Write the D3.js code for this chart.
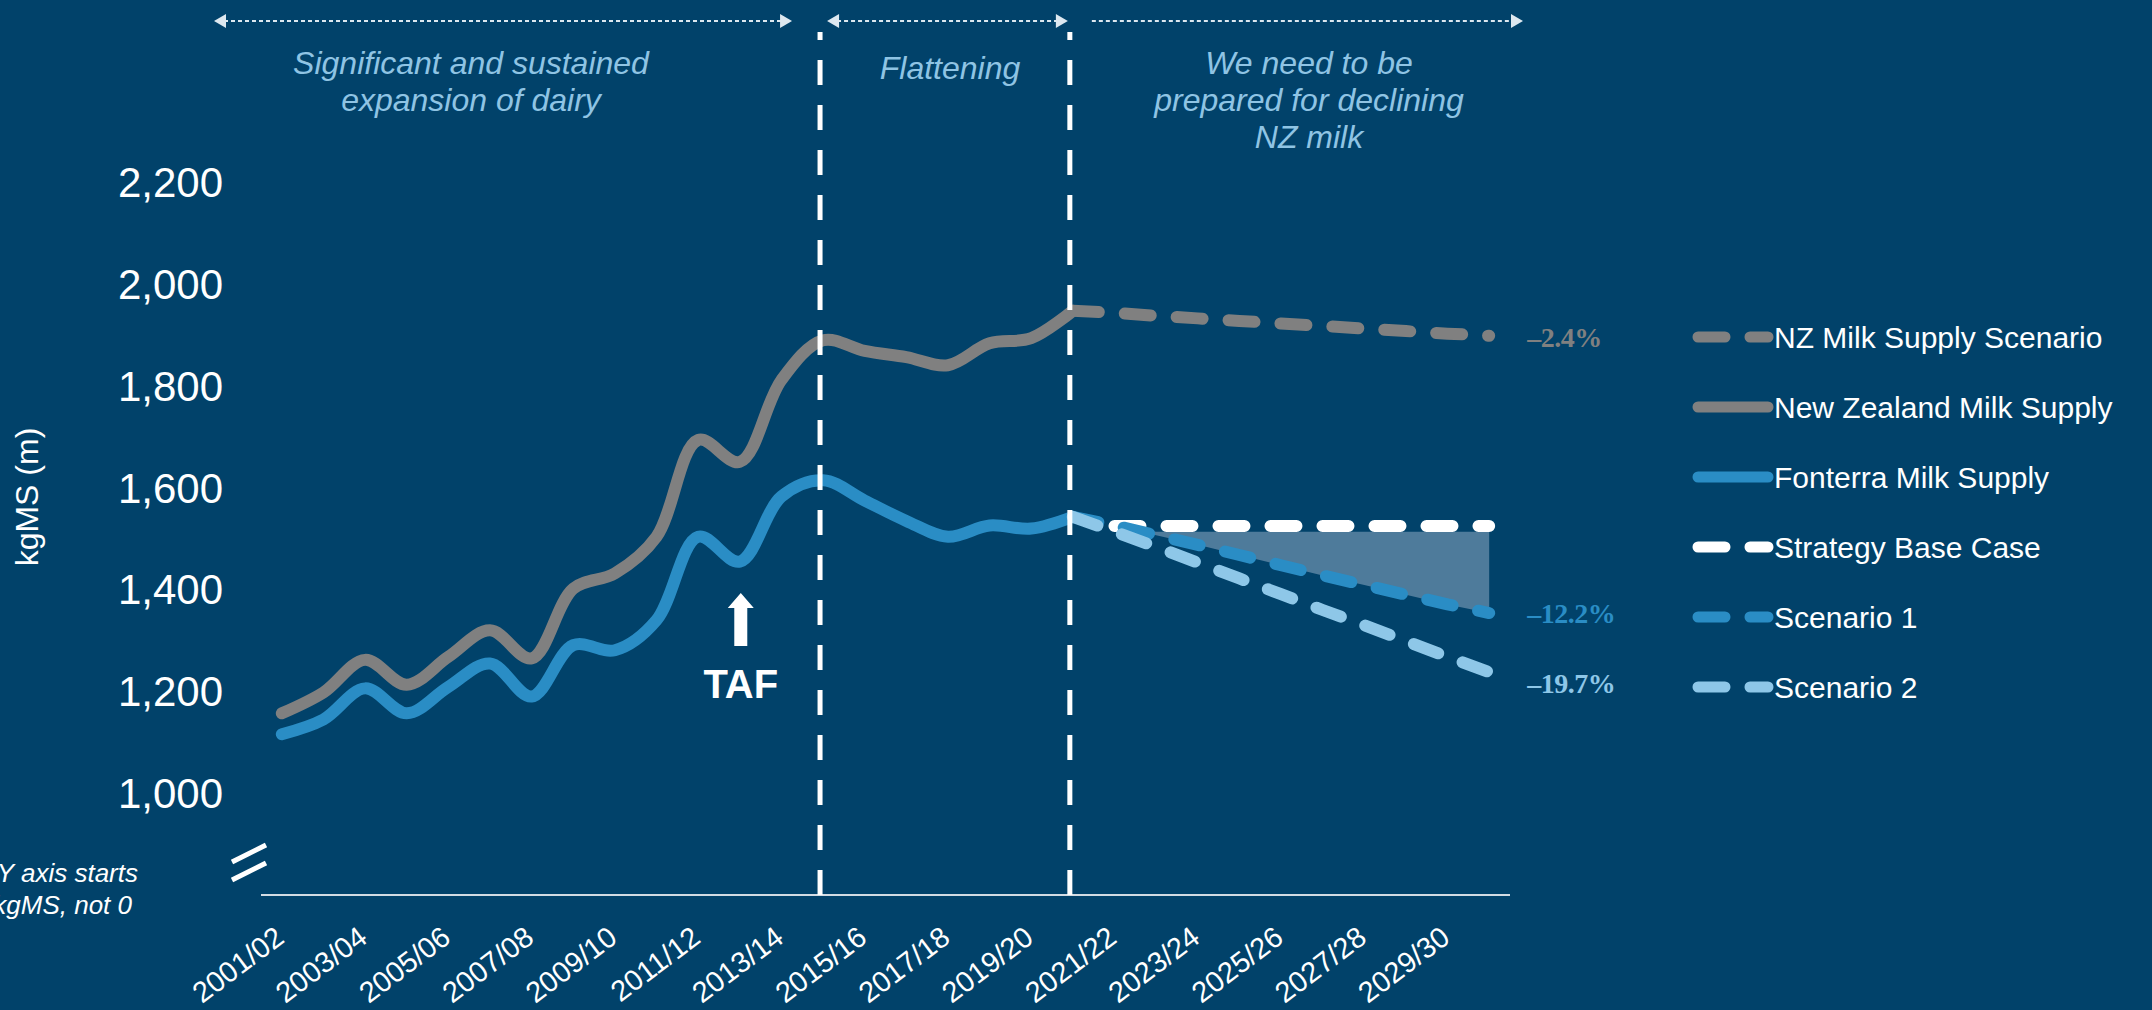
<!DOCTYPE html>
<html>
<head>
<meta charset="utf-8">
<script src="https://cdn.jsdelivr.net/npm/d3@7/dist/d3.min.js"></script>
<style>
  html, body { margin: 0; padding: 0; background: #01426a; overflow: hidden; }
  svg { display: block; font-family: "Liberation Sans", Arial, sans-serif; }
</style>
</head>
<body>
<svg id="chart" width="2152" height="1010"></svg>
<script>
// seasons on the x axis (one point per season)
const seasons = [
  '2001/02','2002/03','2003/04','2004/05','2005/06','2006/07','2007/08','2008/09','2009/10','2010/11',
  '2011/12','2012/13','2013/14','2014/15','2015/16','2016/17','2017/18','2018/19','2019/20','2020/21',
  '2021/22','2022/23','2023/24','2024/25','2025/26','2026/27','2027/28','2028/29','2029/30','2030/31'
];
const xTickLabels = ['2001/02','2003/04','2005/06','2007/08','2009/10','2011/12','2013/14','2015/16',
  '2017/18','2019/20','2021/22','2023/24','2025/26','2027/28','2029/30'];
const yTicks = [1000, 1200, 1400, 1600, 1800, 2000, 2200];

// actuals, 2001/02 - 2020/21 (kgMS m)
const nzSupply = [1157, 1198, 1262, 1213, 1268, 1320, 1265, 1402, 1432, 1504,
  1694, 1651, 1812, 1890, 1869, 1857, 1841, 1884, 1894, 1948];
const fonterraSupply = [1116, 1145, 1206, 1157, 1209, 1255, 1190, 1291, 1281, 1340,
  1504, 1455, 1583, 1615, 1575, 1535, 1504, 1526, 1520, 1543];

// forecasts, 2020/21 - 2030/31
const forecastSeasons = seasons.slice(19);
const nzScenario = [1948, 1944, 1938, 1933, 1928, 1923, 1918, 1913, 1908, 1903, 1899];
const scenario1 = [1543, 1526, 1507, 1488, 1468, 1448, 1428, 1409, 1390, 1371, 1354];
const scenario2 = [1543, 1514, 1484, 1453, 1422, 1391, 1360, 1330, 1299, 1268, 1238];
// strategy base case, 2021/22 - 2030/31
const baseSeasons = seasons.slice(20);
const baseCase = [1525, 1525, 1525, 1525, 1525, 1525, 1525, 1525, 1525, 1525];
const gapTop = [1514, 1514, 1514, 1514, 1514, 1514, 1514, 1514, 1514, 1514];

const endLabels = ['–2.4%', '–12.2%', '–19.7%'];

const periods = ['Significant and sustained|expansion of dairy', 'Flattening',
  'We need to be|prepared for declining|NZ milk'];

const legendNames = ['NZ Milk Supply Scenario','New Zealand Milk Supply','Fonterra Milk Supply',
  'Strategy Base Case','Scenario 1','Scenario 2'];

const colors = {
  bg: '#01426a',
  grey: '#808080',
  blue: '#2a8dc5',
  light: '#8ec7e8',
  white: '#ffffff',
  gap: '#4e7b9b',
  note: '#8fc4e4',
  arrow: '#dde8f0'
};

const svg = d3.select('#chart');
svg.append('rect').attr('width', 2152).attr('height', 1010).attr('fill', colors.bg);

const x = d3.scaleBand().domain(seasons).range([261, 1510]);
const cx = d => x(d) + x.bandwidth() / 2;
const y = d3.scaleLinear().domain([800, 2200]).range([895, 182.5]);

// gap between base case and scenario 1
const gapArea = d3.area()
  .x((d, i) => cx(baseSeasons[i]))
  .y0((d, i) => y(scenario1[i + 1]))
  .y1((d, i) => y(Math.max(d, scenario1[i + 1])));
svg.append('path')
  .attr('d', gapArea(gapTop))
  .attr('fill', colors.gap);

// axis line
svg.append('line')
  .attr('x1', x.range()[0]).attr('x2', x.range()[1])
  .attr('y1', y(800)).attr('y2', y(800))
  .attr('stroke', '#d2dce4').attr('stroke-width', 2);

// axis break marks
const brk = svg.append('g').attr('stroke', '#fff').attr('stroke-width', 5);
[0, 18].forEach(dy => {
  brk.append('line')
    .attr('x1', x.range()[0] - 29).attr('y1', y(800) - 33 + dy)
    .attr('x2', x.range()[0] + 5).attr('y2', y(800) - 50 + dy);
});

// y tick labels
svg.append('g').selectAll('text').data(yTicks).enter()
  .append('text')
    .attr('x', 223)
    .attr('y', d => y(d))
    .attr('dy', '0.35em')
    .attr('text-anchor', 'end')
    .attr('fill', '#fff')
    .attr('font-size', 42)
    .text(d3.format(','));

svg.append('text')
  .attr('transform', 'translate(38,497) rotate(-90)')
  .attr('text-anchor', 'middle')
  .attr('fill', '#fff')
  .attr('font-size', 32)
  .text('kgMS (m)');

// x tick labels
svg.append('g').selectAll('text').data(xTickLabels).enter()
  .append('text')
    .attr('transform', d => `translate(${cx(d) + 4},${y(800) + 46}) rotate(-37)`)
    .attr('text-anchor', 'end')
    .attr('fill', '#fff')
    .attr('font-size', 29)
    .text(d => d);

// note about the y axis (runs off the left edge, as in the source slide)
const note = svg.append('text')
  .attr('fill', '#fff')
  .attr('font-size', 26)
  .attr('font-style', 'italic')
  .attr('text-anchor', 'end');
note.append('tspan').attr('x', 138).attr('y', 882).text('Note: Y axis starts');
note.append('tspan').attr('x', 132).attr('y', 914).text('at 800m kgMS, not 0');

// lines
const smooth = d3.line()
  .x((d, i) => cx(seasons[i]))
  .y(d => y(d))
  .curve(d3.curveCatmullRom);
const straight = keys => d3.line()
  .x((d, i) => cx(keys[i]))
  .y(d => y(d));

const lineStyle = (sel, color, dashed) => sel
  .attr('fill', 'none')
  .attr('stroke', color)
  .attr('stroke-width', 12)
  .attr('stroke-linecap', 'round')
  .attr('stroke-linejoin', 'round')
  .attr('stroke-dasharray', dashed ? '26 26' : null);

svg.append('path').attr('d', smooth(nzSupply)).call(lineStyle, colors.grey, false);
svg.append('path').attr('d', smooth(fonterraSupply)).call(lineStyle, colors.blue, false);
svg.append('path').attr('d', straight(forecastSeasons)(nzScenario)).call(lineStyle, colors.grey, true);
svg.append('path').attr('d', straight(baseSeasons)(baseCase)).call(lineStyle, colors.white, true);
svg.append('path').attr('d', straight(forecastSeasons)(scenario1)).call(lineStyle, colors.blue, true);
svg.append('path').attr('d', straight(forecastSeasons)(scenario2)).call(lineStyle, colors.light, true);

// end-of-period change labels
const lastSeason = seasons[seasons.length - 1];
const endValues = [nzScenario, scenario1, scenario2].map(s => s[s.length - 1]);
const endColors = [colors.grey, colors.blue, colors.light];
const endNudge = [2, 0, 11];
svg.append('g').selectAll('text').data(endLabels).enter()
  .append('text')
    .attr('x', cx(lastSeason) + 38)
    .attr('y', (d, i) => y(endValues[i]) + endNudge[i])
    .attr('dy', '0.35em')
    .attr('fill', (d, i) => endColors[i])
    .attr('font-family', '"Liberation Serif", "Times New Roman", serif')
    .attr('font-weight', 'bold')
    .attr('font-size', 28)
    .attr('letter-spacing', -0.5)
    .text(d => d);

// period dividers
['2014/15', '2020/21'].forEach(s => {
  svg.append('line')
    .attr('x1', cx(s) - 3).attr('x2', cx(s) - 3)
    .attr('y1', 32).attr('y2', y(800))
    .attr('stroke', '#fff')
    .attr('stroke-width', 5)
    .attr('stroke-dasharray', '25 20')
    .attr('stroke-dashoffset', 17);
});

// period arrows and notes
const spans = [
  { x1: x.range()[0] - 47, x2: cx('2014/15') - 31, left: true, cxText: 471 },
  { x1: cx('2014/15') + 4, x2: cx('2020/21') - 5, left: true, cxText: 950 },
  { x1: cx('2020/21') + 19, x2: x.range()[1] + 13, left: false, cxText: 1309 }
];
const arrows = svg.append('g');
spans.forEach((s, i) => {
  arrows.append('line')
    .attr('x1', s.x1 + (s.left ? 10 : 0)).attr('x2', s.x2 - 10)
    .attr('y1', 21).attr('y2', 21)
    .attr('stroke', colors.arrow)
    .attr('stroke-width', 2)
    .attr('stroke-dasharray', '4 3');
  arrows.append('path')
    .attr('d', `M${s.x2},21 L${s.x2 - 12},14 L${s.x2 - 12},28 Z`)
    .attr('fill', colors.arrow);
  if (s.left) {
    arrows.append('path')
      .attr('d', `M${s.x1},21 L${s.x1 + 12},14 L${s.x1 + 12},28 Z`)
      .attr('fill', colors.arrow);
  }
  const t = arrows.append('text')
    .attr('text-anchor', 'middle')
    .attr('fill', colors.note)
    .attr('font-size', 32)
    .attr('font-style', 'italic');
  periods[i].split('|').forEach((line, j) => {
    t.append('tspan').attr('x', s.cxText).attr('y', (i == 1 ? 79 : 74) + j * 37).text(line);
  });
});

// TAF marker
const tafX = cx('2012/13') + 1;
svg.append('path')
  .attr('d', `M${tafX},593 L${tafX + 13},608 L${tafX + 6.5},608 L${tafX + 6.5},646 L${tafX - 6.5},646 L${tafX - 6.5},608 L${tafX - 13},608 Z`)
  .attr('fill', '#fff');
svg.append('text')
  .attr('x', tafX).attr('y', 698)
  .attr('text-anchor', 'middle')
  .attr('fill', '#fff')
  .attr('font-weight', 'bold')
  .attr('font-size', 40)
  .text('TAF');

// legend
const legendStyles = [
  { color: colors.grey, dashed: true },
  { color: colors.grey, dashed: false },
  { color: colors.blue, dashed: false },
  { color: colors.white, dashed: true },
  { color: colors.blue, dashed: true },
  { color: colors.light, dashed: true }
];
const legend = svg.append('g').attr('transform', 'translate(1698,337)');
const rows = legend.selectAll('g').data(legendNames).enter()
  .append('g')
    .attr('transform', (d, i) => `translate(0,${i * 70})`);
rows.append('line')
  .attr('x1', 0).attr('x2', 70)
  .attr('stroke', (d, i) => legendStyles[i].color)
  .attr('stroke-width', 11)
  .attr('stroke-linecap', 'round')
  .attr('stroke-dasharray', (d, i) => legendStyles[i].dashed ? '27 25' : null);
rows.append('text')
  .attr('x', 76)
  .attr('dy', '0.35em')
  .attr('fill', '#fff')
  .attr('font-size', 30)
  .text(d => d);
</script>
</body>
</html>
